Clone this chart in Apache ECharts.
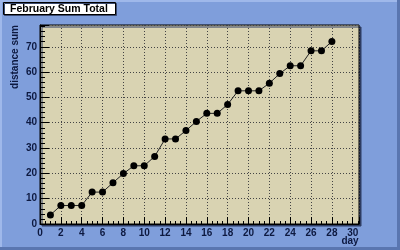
<!DOCTYPE html>
<html><head><meta charset="utf-8">
<script src="https://cdn.jsdelivr.net/npm/echarts@6/dist/echarts.min.js"></script>
<style>html,body{margin:0;padding:0;background:#7f9edb;}#c{width:400px;height:250px;}</style>
</head><body><div id="c"></div>
<script>
var days = [1,2,3,4,5,6,7,8,9,10,11,12,13,14,15,16,17,18,19,20,21,22,23,24,25,26,27,28];
var sums = [3.6,7.3,7.3,7.3,12.6,12.6,16.3,19.9,23.0,23.0,26.7,33.6,33.6,36.9,40.5,43.7,43.7,47.2,52.6,52.6,52.6,55.6,59.4,62.5,62.5,68.4,68.4,72.1];
var titleText = 'February Sum Total';
var xName = 'day';
var yName = 'distance sum';

var chart = echarts.init(document.getElementById('c'), null, {renderer:'canvas'});
var font = 'Liberation Sans, Arial, sans-serif';
chart.setOption({
  backgroundColor: '#7f9edb',
  animation: false,
  title: {
    text: titleText, left: 3, top: 2,
    backgroundColor: '#ffffff', borderColor: '#000', borderWidth: 1,
    padding: [1, 8, 0, 7],
    shadowColor: '#3a4a70', shadowOffsetX: 1, shadowOffsetY: 1, shadowBlur: 0,
    textStyle: {fontFamily: font, fontSize: 10.5, fontWeight: 'bold', color: '#000', lineHeight: 12}
  },
  grid: {
    left: 40, top: 25, width: 319, height: 199,
    show: true, backgroundColor: '#d9d3b2', borderColor: '#000', borderWidth: 1,
    shadowColor: '#2f3d63', shadowOffsetX: 2, shadowOffsetY: 2, shadowBlur: 0
  },
  xAxis: {
    type: 'value', min: 0, max: 30.6, interval: 2,
    axisLine: {show: true, onZero: false, lineStyle: {color: '#000', width: 1}},
    axisTick: {show: true, inside: true, length: 7, lineStyle: {color: '#000'}},
    minorTick: {show: true, splitNumber: 4, length: 3, lineStyle: {color: '#000'}},
    splitLine: {show: true, lineStyle: {color: '#444', type: [1, 2], width: 1}},
    axisLabel: {showMaxLabel: false, margin: 4, fontFamily: font, fontSize: 10, fontWeight: 'bold', color: '#0d1940'}
  },
  yAxis: {
    type: 'value', min: 0, max: 78.6, interval: 10,
    axisLine: {show: true, onZero: false, lineStyle: {color: '#000', width: 1}},
    axisTick: {show: true, inside: true, length: 9, lineStyle: {color: '#000'}},
    minorTick: {show: true, splitNumber: 5, length: 5, lineStyle: {color: '#000'}},
    splitLine: {show: true, lineStyle: {color: '#444', type: [1, 2], width: 1}},
    axisLabel: {showMaxLabel: false, margin: 3, fontFamily: font, fontSize: 10, fontWeight: 'bold', color: '#0d1940'}
  },
  graphic: [
    {type: 'rect', shape: {x: 0, y: 0, width: 400, height: 2}, style: {fill: '#9fb8ea'}, z: 0},
    {type: 'rect', shape: {x: 0, y: 0, width: 2, height: 250}, style: {fill: '#9fb8ea'}, z: 0},
    {type: 'rect', shape: {x: 0, y: 247, width: 400, height: 3}, style: {fill: '#5a76b0'}, z: 0},
    {type: 'rect', shape: {x: 397, y: 0, width: 3, height: 250}, style: {fill: '#5a76b0'}, z: 0},
    {type: 'text', x: 350, y: 236, style: {text: xName, textAlign: 'center', textVerticalAlign: 'top', font: 'bold 10px ' + font, fill: '#0d1940'}},
    {type: 'text', x: 15, y: 25, rotation: Math.PI / 2, style: {text: yName, textAlign: 'right', textVerticalAlign: 'middle', font: 'bold 10px ' + font, fill: '#0d1940'}}
  ],
  series: [{
    type: 'line',
    data: days.map(function (d, i) { return [d, sums[i]]; }),
    symbol: 'circle', symbolSize: 7,
    itemStyle: {color: '#000'},
    lineStyle: {color: '#222', width: 1}
  }]
});
</script></body></html>
